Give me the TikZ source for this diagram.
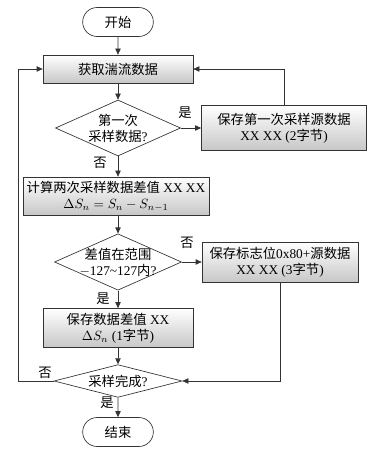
\documentclass[tikz,border=0pt]{standalone}
\usepackage{fontspec}
\setmainfont{Liberation Serif}
\newfontfamily\cjk{Noto Sans CJK SC}
\usetikzlibrary{arrows.meta,shapes}
\begin{document}
\begin{tikzpicture}[x=0.75pt,y=-0.75pt,>={Triangle[length=4.5pt,width=4pt]},
line width=0.5pt,
term/.style={draw=black!80,rounded rectangle,minimum width=53pt,minimum height=21.75pt,inner sep=0pt},
proc/.style={draw=black!80,top color=white,bottom color=black!22,align=center,inner sep=0pt},
dec/.style={draw=black!80,fill=white,diamond,aspect=2.24,align=center,inner xsep=-3pt,inner ysep=-1pt},
link/.style={->,draw=black!80}]
\useasboundingbox(0,0)rectangle(369,452);
\node[term](start)at(118,22){\cjk 开始};
\node[proc,minimum width=112.5pt,minimum height=21pt](get)at(118,69){\cjk 获取湍流数据};
\node[dec,minimum width=93.75pt,minimum height=42pt](first)at(118,128){{\cjk 第一次}\\{\cjk 采样数据}?};
\node[proc,minimum width=123.75pt,minimum height=33.75pt](keep)at(284,128){{\cjk 保存第一次采样源数据}\\XX XX (2{\cjk 字节})};
\node[proc,minimum width=139.5pt,minimum height=28.5pt](calc)at(116,196){{\cjk 计算两次采样数据差值} XX XX\\$\Delta S_n= S_n - S_{n-1}$};
\node[dec,minimum width=95.25pt,minimum height=42pt](range)at(118,262){{\cjk 差值在范围}\\$-$127\textasciitilde127{\cjk 内}?};
\node[proc,minimum width=117pt,minimum height=30pt](flag)at(280,262){{\cjk 保存标志位}0x80+{\cjk 源数据}\\XX XX (3{\cjk 字节})};
\node[proc,minimum width=112.5pt,minimum height=29.25pt](diff)at(118,328){{\cjk 保存数据差值} XX\\$\Delta S_n$ (1{\cjk 字节})};
\node[dec,minimum width=96pt,minimum height=23.25pt](done)at(118,381){{\cjk 采样完成}?};
\node[term](stop)at(118,432){\cjk 结束};
\coordinate(loop)at(18,381);
\draw[link](start)--(get);
\draw[link](get)--(first);
\draw[link](first)--(keep);
\draw[link](first.south)--(first.south|-calc.north);
\draw[link](calc.south-|range.north)--(range.north);
\draw[link](range)--(flag);
\draw[link](range)--(diff);
\draw[link](diff)--(done);
\draw[link](done)--(stop);
\draw[link](keep.north)|-(get.east);
\draw[link](flag.south)|-(done.east);
\draw[link](done.west)--(loop)|-(get.west);
\node(yes1)at(185,113){\cjk 是};
\node(no1)at(100,163){\cjk 否};
\node(no2)at(187,243){\cjk 否};
\node(yes2)at(103,299){\cjk 是};
\node(no3)at(45,373){\cjk 否};
\node(yes3)at(107,403){\cjk 是};
\end{tikzpicture}
\end{document}
